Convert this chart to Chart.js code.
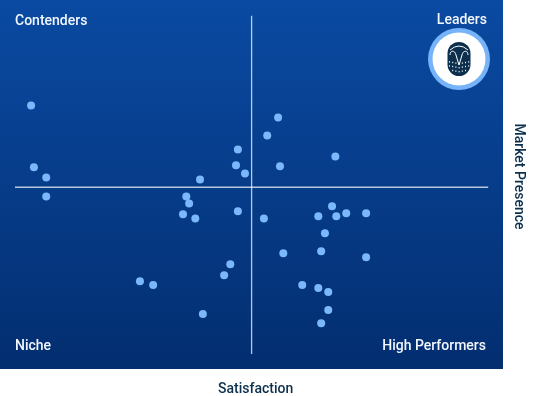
<!DOCTYPE html>
<html><head><meta charset="utf-8">
<style>html,body{margin:0;padding:0;background:#fff}canvas{display:block}</style>
<script src="https://cdn.jsdelivr.net/npm/chart.js@4"></script></head>
<body><canvas id="c" width="539" height="396"></canvas>
<script>
const satisfaction=[3.4,4.0,6.6,6.6,39.1,36.2,36.8,35.5,38.1,47.1,46.7,48.6,47.1,52.6,55.6,53.3,56.0,67.7,67.0,64.1,67.9,70.0,74.2,65.5,64.7,56.7,74.2,45.5,44.2,26.4,29.2,60.7,64.1,66.2,66.2,39.7,64.7];
const presence=[73.5,55.2,52.2,46.6,51.6,46.6,44.5,41.3,40.1,60.5,55.8,53.4,42.2,40.1,69.9,64.6,55.5,58.4,43.7,40.7,40.7,41.6,41.6,35.7,30.4,29.8,28.6,26.5,23.3,21.5,20.4,20.4,19.5,18.3,13.0,11.8,9.1];
const quadrants=["Contenders","Leaders","Niche","High Performers"];
const xTitle="Satisfaction", yTitle="Market Presence";
const crossX=50, crossY=49.3, xEnd=100, yEnd=100;

const backdrop={id:'backdrop',beforeDraw(ch){
  const c=ch.ctx;
  const g=c.createLinearGradient(0,0,0,369);
  g.addColorStop(0,'#0a4aa2');g.addColorStop(1,'#032e70');
  c.save();c.fillStyle=g;c.fillRect(0,0,503,369);c.restore();
}};
const overlay={id:'overlay',afterDraw(ch){
  const c=ch.ctx;c.save();
  c.fillStyle='#f2f7ff';c.font='500 14px Roboto';c.textBaseline='middle';
  c.textAlign='left';c.fillText(quadrants[0],15,21);c.fillText(quadrants[2],15,346);
  c.textAlign='right';c.fillText(quadrants[1],487,20);c.fillText(quadrants[3],486,346);
  const cx=459,cy=59;
  c.fillStyle='#76b3f8';c.beginPath();c.arc(cx,cy,31,0,7);c.fill();
  c.fillStyle='#fff';c.beginPath();c.arc(cx,cy,26.5,0,7);c.fill();
  c.fillStyle='#0c2f4d';c.beginPath();c.roundRect(cx-11.5,42,23,34,11.5);c.fill();
  c.strokeStyle='#fff';c.lineWidth=1;
  c.beginPath();c.moveTo(cx,65);c.lineTo(cx-3,55);c.bezierCurveTo(cx-4,50,cx-9,50,cx-9,55);c.stroke();
  c.beginPath();c.moveTo(cx,65);c.lineTo(cx+3,55);c.bezierCurveTo(cx+4,50,cx+9,50,cx+9,55);c.stroke();
  c.beginPath();c.moveTo(cx-9,50);c.quadraticCurveTo(cx,42,cx+9,50);c.stroke();
  c.fillStyle='#fff';
  for(let r=0;r<3;r++)for(let i=-3;i<=3;i++){
    if(Math.abs(i)===3&&r===2)continue;
    c.fillRect(cx+i*3.2-.4,63+r*4+Math.abs(i)*-.6,1,1.4);
  }
  c.restore();
}};
new Chart(document.getElementById('c'),{
  type:'scatter',
  data:{datasets:[
    {data:satisfaction.map((x,i)=>({x,y:presence[i]})),backgroundColor:'#7ab8fb',borderWidth:0,pointRadius:4,order:1},
    {data:[{x:crossX,y:0},{x:crossX,y:yEnd}],showLine:true,borderColor:'rgba(255,255,255,.72)',borderWidth:1.3,pointRadius:0,order:2,clip:false},
    {data:[{x:0,y:crossY},{x:xEnd,y:crossY}],showLine:true,borderColor:'rgba(255,255,255,.72)',borderWidth:1.3,pointRadius:0,order:2,clip:false}
  ]},
  options:{
    responsive:false,animation:false,
    layout:{padding:{left:15,top:0,right:2,bottom:0}},
    plugins:{legend:{display:false},tooltip:{enabled:false}},
    scales:{
      x:{min:0,max:101.69,grid:{display:false},border:{display:false},ticks:{display:false},
         title:{display:true,text:xTitle,color:'#0c2f4d',font:{family:'Roboto',size:14,weight:'500'},padding:{top:24.2,bottom:-2}}},
      y:{position:'right',min:1.47,max:103.5,grid:{display:false},border:{display:false},ticks:{display:false},
         title:{display:true,text:yTitle,color:'#0c2f4d',font:{family:'Roboto',size:14,weight:'500'},padding:{top:10,bottom:6}}}
    }
  },
  plugins:[backdrop,overlay]
});
</script></body></html>
